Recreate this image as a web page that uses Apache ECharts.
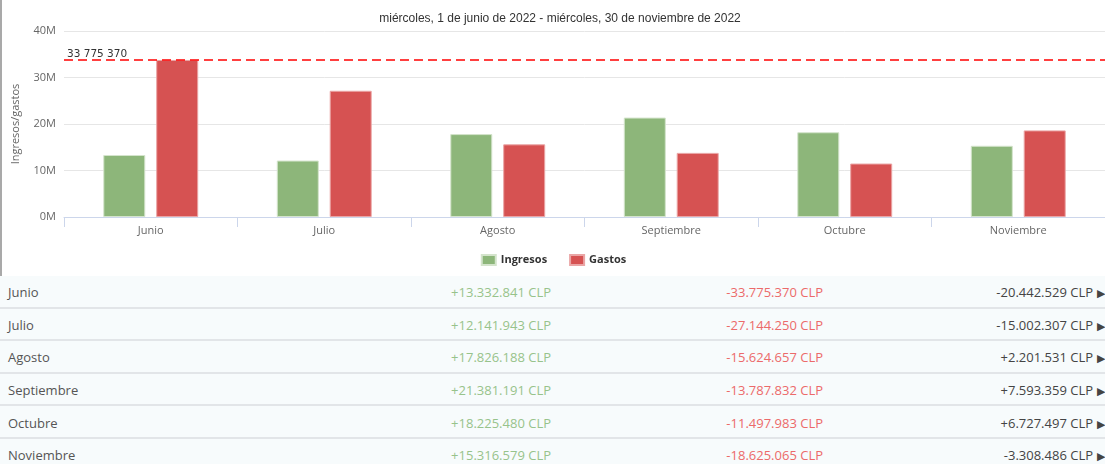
<!DOCTYPE html>
<html>
<head>
<meta charset="utf-8">
<script src="https://cdn.jsdelivr.net/npm/echarts@6/dist/echarts.min.js"></script>
<style>
html,body{margin:0;padding:0;width:1105px;height:464px;overflow:hidden;background:#fff;}
#chart{position:absolute;left:0;top:0;width:1105px;height:276px;border-left:2px solid #a9a9a9;box-sizing:border-box;}
#tbl{position:absolute;left:0;top:276px;width:1105px;font-family:"Open Sans",sans-serif;font-size:13px;}
.row{position:relative;height:30.6px;border-bottom:2px solid #e2e5e8;background:#f7fbfc;}
.row span{position:absolute;top:50%;transform:translateY(-42%);white-space:nowrap;}
.m{left:8px;color:#555;}
.i{right:554px;color:#97c38b;}
.g{right:282px;color:#ec6a6a;}
.n{right:12px;color:#444;}
.a{right:0px;color:#444;font-size:11px;}
</style>
</head>
<body>
<div id="chart"></div>
<div id="tbl"></div>
<script>
const titleText = "miércoles, 1 de junio de 2022 - miércoles, 30 de noviembre de 2022";
const categories = ["Junio","Julio","Agosto","Septiembre","Octubre","Noviembre"];
const ingresos = [13332841,12141943,17826188,21381191,18225480,15316579];
const gastos = [33775370,27144250,15624657,13787832,11497983,18625065];
const neto = [-20442529,-15002307,2201531,7593359,6727497,-3308486];
const maxGasto = 33775370;
const yTicks = [0,10000000,20000000,30000000,40000000];

function fmt(v){
  const s = Math.abs(v).toString().replace(/\B(?=(\d{3})+(?!\d))/g,".");
  return (v<0?"-":"+") + s + " CLP";
}

const chart = echarts.init(document.getElementById('chart'));
chart.setOption({
  animation:false,
  title:{text:titleText,left:553,top:8,textAlign:'center',
    textStyle:{fontFamily:'Liberation Sans',fontSize:12,fontWeight:'normal',color:'#333'}},
  legend:{bottom:5,left:'center',itemWidth:14,itemHeight:10,itemGap:22,icon:'rect',
    textStyle:{fontFamily:'Open Sans',fontSize:11,fontWeight:'bold',color:'#333'},
    data:['Ingresos','Gastos']},
  grid:{left:57,right:0,top:31,bottom:59},
  xAxis:{type:'category',data:categories,
    axisLine:{lineStyle:{color:'#ccd6eb'}},
    axisTick:{show:true,length:10,lineStyle:{color:'#ccd6eb'}},
    axisLabel:{margin:8,fontFamily:'Open Sans',fontSize:11,color:'#666'}},
  yAxis:{type:'value',min:yTicks[0],max:yTicks[yTicks.length-1],interval:yTicks[1]-yTicks[0],
    name:'Ingresos/gastos',nameLocation:'middle',nameGap:43,
    nameTextStyle:{fontFamily:'Open Sans',fontSize:11,color:'#666'},
    axisLabel:{margin:8,fontFamily:'Open Sans',fontSize:11,color:'#666',formatter:v=>(v/1000000)+'M'},
    splitLine:{lineStyle:{color:'#e6e6e6'}}},
  series:[
    {name:'Ingresos',type:'bar',data:ingresos,barWidth:42,barGap:'26%',
      itemStyle:{color:'#8db67a',borderColor:'#d4e4cc',borderWidth:1},
      markLine:{silent:true,symbol:'none',data:[{yAxis:maxGasto}],
        lineStyle:{color:'#ff0000',type:[9,5],width:1.5},
        label:{position:'insideStartTop',distance:[3,0],fontFamily:'DejaVu Sans',fontSize:10.5,color:'#333',
          formatter:()=>maxGasto.toString().replace(/\B(?=(\d{3})+(?!\d))/g," ")}}},
    {name:'Gastos',type:'bar',data:gastos,barWidth:42,
      itemStyle:{color:'#d65252',borderColor:'#eaa5a5',borderWidth:1}}
  ]
});

const tbl = document.getElementById('tbl');
categories.forEach((c,k)=>{
  const r = document.createElement('div');
  r.className='row';
  r.innerHTML = '<span class="m">'+c+'</span><span class="i">'+fmt(ingresos[k])+'</span>'+
    '<span class="g">'+fmt(-gastos[k])+'</span><span class="n">'+fmt(neto[k])+'</span><span class="a">&#9654;</span>';
  tbl.appendChild(r);
});
</script>
</body>
</html>
